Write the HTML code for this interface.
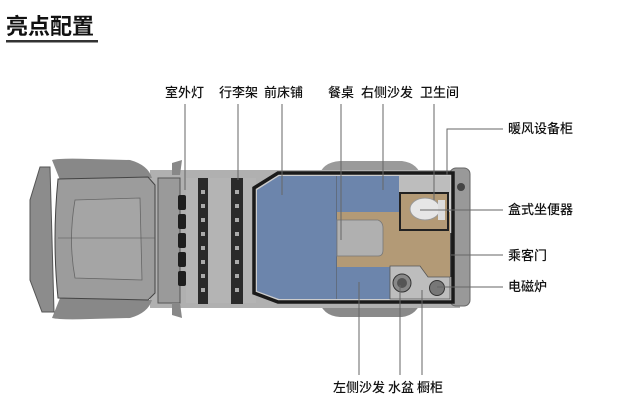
<!DOCTYPE html>
<html><head><meta charset="utf-8"><style>
html,body{margin:0;padding:0;background:#fff;}
svg{display:block;}
text{font-family:"Liberation Sans","Noto Sans CJK SC",sans-serif;fill:#111;}
</style></head><body>
<svg width="620" height="409" viewBox="0 0 620 409" xmlns="http://www.w3.org/2000/svg">
<text x="6" y="34" font-size="22" font-weight="bold" fill="#1a1a1a">亮点配置</text>
<rect x="6" y="40" width="92" height="2.5" fill="#333"/>

<g>
 <path d="M318 178 Q322 162 340 161 L402 161 Q418 163 422 178 Z" fill="#9a9a9a"/>
 <path d="M318 298 Q322 316 340 317 L402 317 Q418 315 422 298 Z" fill="#8a8a8a"/>
 <rect x="150" y="170" width="310" height="138" fill="#b0b0b0"/>
 <rect x="450" y="168" width="20" height="138" rx="6" fill="#999" stroke="#666"/>
 <circle cx="461" cy="187" r="4" fill="#444"/>
 <path d="M52 160 Q60 158 90 159 L130 160 Q148 165 152 178 L60 180 Z" fill="#888"/>
 <path d="M52 318 Q60 320 90 319 L130 318 Q148 313 152 300 L60 298 Z" fill="#888"/>
 <path d="M40 167 L50 167 L54 312 L42 312 L30 280 L30 200 Z" fill="#8c8c8c" stroke="#555" stroke-width="1"/>
 <path d="M58 179 L148 177 L155 185 L155 293 L148 300 L58 298 Q52 240 58 179 Z" fill="#9c9c9c" stroke="#444" stroke-width="1"/>
 <path d="M75 200 L140 198 L142 280 L75 278 Q68 240 75 200 Z" fill="#a5a5a5" stroke="#666" stroke-width="0.8"/>
 <line x1="58" y1="238" x2="155" y2="238" stroke="#555" stroke-width="0.6"/>
 <rect x="158" y="178" width="22" height="125" fill="#9a9a9a" stroke="#555"/>
 <g fill="#1e1e1e">
  <rect x="178" y="195" width="8" height="15" rx="2"/>
  <rect x="178" y="214" width="8" height="15" rx="2"/>
  <rect x="178" y="233" width="8" height="15" rx="2"/>
  <rect x="178" y="252" width="8" height="15" rx="2"/>
  <rect x="178" y="271" width="8" height="15" rx="2"/>
 </g>
 <rect x="186" y="178" width="70" height="125" fill="#b4b4b4"/>
 <rect x="198" y="178" width="10" height="126" fill="#2a2a2a"/>
 <rect x="231" y="178" width="12" height="126" fill="#2a2a2a"/>
 <g fill="#aaa">
  <rect x="201" y="190" width="4" height="4"/><rect x="201" y="204" width="4" height="4"/><rect x="201" y="218" width="4" height="4"/><rect x="201" y="232" width="4" height="4"/><rect x="201" y="246" width="4" height="4"/><rect x="201" y="260" width="4" height="4"/><rect x="201" y="274" width="4" height="4"/><rect x="201" y="288" width="4" height="4"/>
  <rect x="235" y="190" width="4" height="4"/><rect x="235" y="204" width="4" height="4"/><rect x="235" y="218" width="4" height="4"/><rect x="235" y="232" width="4" height="4"/><rect x="235" y="246" width="4" height="4"/><rect x="235" y="260" width="4" height="4"/><rect x="235" y="274" width="4" height="4"/><rect x="235" y="288" width="4" height="4"/>
 </g>
 <path d="M172 163 L182 160 L180 175 L172 175 Z" fill="#888"/>
 <path d="M172 315 L182 318 L180 303 L172 303 Z" fill="#888"/>
</g>

<path d="M278 173 L453 173 L453 302 L278 302 L254 293 L254 188 Z" fill="#ccc" stroke="#1a1a1a" stroke-width="3.5"/>
<path d="M279 176 L337 176 L337 299 L279 299 L257 291 L257 190 Z" fill="#6c85ac"/>
<line x1="337" y1="176" x2="337" y2="299" stroke="#555" stroke-width="1"/>
<rect x="337" y="176" width="62" height="36" fill="#6c85ac"/>
<rect x="337" y="212" width="113" height="55" fill="#b39a76"/>
<rect x="399" y="230" width="51" height="47" fill="#b39a76"/>
<path d="M337 220 L378 220 Q383 222 383 228 L383 250 Q383 256 378 256 L337 256 Z" fill="#b0b0b0" stroke="#777" stroke-width="0.8"/>
<rect x="337" y="267" width="53" height="32" fill="#6c85ac"/>
<path d="M390 266 L420 266 L428 277 L450 277 L450 299 L390 299 Z" fill="#bdbdbd" stroke="#555" stroke-width="0.8"/>
<circle cx="402" cy="283" r="9" fill="#888" stroke="#333"/>
<circle cx="402" cy="283" r="5" fill="#555"/>
<circle cx="437" cy="288" r="7.5" fill="#777" stroke="#333"/>
<rect x="399" y="176" width="51" height="17" fill="#bdbdbd"/>
<rect x="400" y="193" width="48" height="37" fill="#b39a76" stroke="#222" stroke-width="2"/>
<ellipse cx="425" cy="209" rx="15" ry="11" fill="#e6e6e6" stroke="#999"/>
<rect x="438" y="200" width="7" height="20" fill="#ddd"/>
<line x1="451" y1="233" x2="451" y2="277" stroke="#222" stroke-width="1.5"/>

<g stroke="#666" stroke-width="1" fill="none">
 <line x1="185" y1="104" x2="185" y2="190"/>
 <line x1="238" y1="104" x2="238" y2="180"/>
 <line x1="282" y1="104" x2="282" y2="195"/>
 <line x1="341" y1="104" x2="341" y2="240"/>
 <line x1="383" y1="104" x2="383" y2="190"/>
 <line x1="434" y1="104" x2="434" y2="200"/>
 <polyline points="447,175 447,129 503,129"/>
 <line x1="420" y1="210" x2="503" y2="210"/>
 <line x1="451" y1="255" x2="503" y2="255"/>
 <line x1="437" y1="287" x2="503" y2="287"/>
 <line x1="359" y1="282" x2="359" y2="375"/>
 <line x1="400" y1="285" x2="400" y2="375"/>
 <line x1="422" y1="290" x2="422" y2="375"/>
</g>

<g font-size="13" font-weight="500">
 <text x="165" y="97">室外灯</text>
 <text x="219" y="97">行李架</text>
 <text x="264" y="97">前床铺</text>
 <text x="328" y="97">餐桌</text>
 <text x="361" y="97">右侧沙发</text>
 <text x="420" y="97">卫生间</text>
 <text x="508" y="133">暖风设备柜</text>
 <text x="508" y="214">盒式坐便器</text>
 <text x="508" y="260">乘客门</text>
 <text x="508" y="291">电磁炉</text>
 <text x="333" y="392">左侧沙发</text>
 <text x="388" y="392">水盆</text>
 <text x="417" y="392">橱柜</text>
</g>
</svg>
</body></html>
